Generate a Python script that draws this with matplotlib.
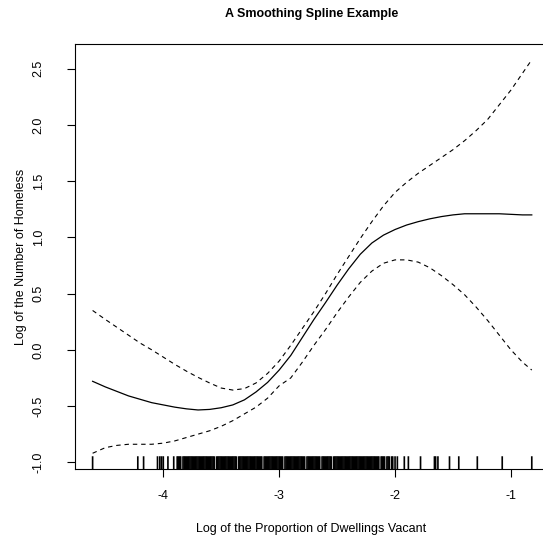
import numpy as np
import matplotlib
matplotlib.use("Agg")
import matplotlib.pyplot as plt

plt.rcParams['font.family'] = ['Liberation Sans', 'DejaVu Sans']
plt.rcParams['axes.unicode_minus'] = False

# fitted smoothing spline and its +/- 2 se band
grid_x = [-4.61, -4.5, -4.4, -4.3, -4.2, -4.1, -4.0, -3.9, -3.8, -3.7,
          -3.6, -3.5, -3.4, -3.3, -3.2, -3.1, -3.0, -2.9, -2.8, -2.7,
          -2.6, -2.5, -2.4, -2.3, -2.2, -2.1, -2.0, -1.9, -1.8, -1.7,
          -1.6, -1.5, -1.4, -1.3, -1.2, -1.1, -1.0, -0.9, -0.82]
fit = [-0.28, -0.33, -0.37, -0.41, -0.44, -0.47, -0.49, -0.51, -0.525, -0.535,
       -0.53, -0.515, -0.49, -0.445, -0.375, -0.29, -0.18, -0.05, 0.11, 0.27,
       0.42, 0.575, 0.72, 0.85, 0.95, 1.02, 1.07, 1.11, 1.14, 1.165,
       1.185, 1.20, 1.21, 1.21, 1.21, 1.21, 1.205, 1.20, 1.20]
upper = [0.35, 0.27, 0.20, 0.13, 0.06, 0.00, -0.065, -0.13, -0.19, -0.245,
         -0.295, -0.34, -0.358, -0.345, -0.295, -0.21, -0.10, 0.04, 0.19, 0.34,
         0.50, 0.67, 0.83, 0.99, 1.14, 1.28, 1.40, 1.49, 1.57, 1.64,
         1.71, 1.78, 1.86, 1.95, 2.05, 2.18, 2.31, 2.46, 2.58]
lower = [-0.92, -0.87, -0.85, -0.84, -0.84, -0.84, -0.83, -0.81, -0.78, -0.75,
         -0.72, -0.68, -0.63, -0.57, -0.51, -0.43, -0.32, -0.25, -0.11, 0.04,
         0.18, 0.33, 0.47, 0.60, 0.70, 0.77, 0.80, 0.80, 0.78, 0.73,
         0.66, 0.58, 0.49, 0.38, 0.26, 0.13, 0.0, -0.11, -0.18]

# observed x values (rug)
rug_x = [
    -4.61, -4.22, -4.17, -4.05, -4.03, -4.015, -4.00, -3.96, -3.91,
    -3.88, -3.87, -3.86, -3.85, -3.83, -3.82, -3.81, -3.80, -3.79, -3.78,
    -3.77, -3.76, -3.75, -3.74, -3.73, -3.72, -3.71, -3.70, -3.69, -3.68,
    -3.67, -3.66, -3.65, -3.64, -3.63, -3.62, -3.61, -3.60, -3.59, -3.58,
    -3.57, -3.56, -3.54, -3.53, -3.52, -3.51, -3.50, -3.49, -3.48, -3.47,
    -3.46, -3.45, -3.44, -3.43, -3.42, -3.41, -3.40, -3.39, -3.38, -3.37,
    -3.35, -3.34, -3.33, -3.32, -3.31, -3.30, -3.29, -3.28, -3.27, -3.26,
    -3.25, -3.24, -3.23, -3.22, -3.21, -3.20, -3.19, -3.18, -3.17, -3.16,
    -3.15, -3.13, -3.12, -3.11, -3.10, -3.09, -3.08, -3.07, -3.06, -3.05,
    -3.04, -3.03, -3.02, -3.01, -3.00, -2.99, -2.98, -2.97, -2.95, -2.94,
    -2.93, -2.92, -2.91, -2.90, -2.89, -2.88, -2.87, -2.86, -2.85, -2.84,
    -2.83, -2.82, -2.81, -2.80, -2.79, -2.78, -2.76, -2.75, -2.74, -2.73,
    -2.72, -2.71, -2.70, -2.69, -2.68, -2.67, -2.66, -2.65, -2.63, -2.62,
    -2.61, -2.60, -2.59, -2.58, -2.57, -2.56, -2.55, -2.53, -2.52, -2.51,
    -2.50, -2.49, -2.48, -2.47, -2.46, -2.45, -2.44, -2.43, -2.42, -2.41,
    -2.40, -2.39, -2.38, -2.37, -2.36, -2.35, -2.34, -2.33, -2.32, -2.31,
    -2.30, -2.29, -2.28, -2.27, -2.26, -2.25, -2.24, -2.23, -2.22, -2.21,
    -2.20, -2.19, -2.18, -2.17, -2.16, -2.15, -2.14, -2.12, -2.11, -2.10,
    -2.09, -2.07, -2.06, -2.05, -2.03, -2.02, -2.00, -1.98,
    -1.92, -1.885, -1.78, -1.66, -1.65, -1.63, -1.53, -1.45, -1.29, -1.075, -0.82,
]

x_ticks = [-4, -3, -2, -1]
y_ticks = [-1.0, -0.5, 0.0, 0.5, 1.0, 1.5, 2.0, 2.5]

fig = plt.figure(figsize=(5.43, 5.37), dpi=100)
# box runs slightly past the right edge, as in the reference
ax = fig.add_axes([75 / 543, 68 / 537, 473 / 543, 425 / 537])

ax.plot(grid_x, fit, "-", color="black", lw=0.9)
ax.plot(grid_x, upper, color="black", lw=0.8, linestyle=(0, (4, 3.5)))
ax.plot(grid_x, lower, color="black", lw=0.8, linestyle=(0, (4, 3.5)))
rug = ax.vlines(rug_x, 0, 0.03, transform=ax.get_xaxis_transform(),
                color="black", lw=1.2)
rug.set_snap(False)

ax.set_xlim(-4.762, -0.68)
ax.set_ylim(-1.06, 2.72)
ax.set_xticks(x_ticks)
ax.set_xticklabels(["%d" % t for t in x_ticks])
ax.set_yticks(y_ticks)
ax.set_yticklabels(["%.1f" % t for t in y_ticks], rotation=90, va="center")

ax.tick_params(axis="both", direction="out", length=5.8, width=0.8,
               labelsize=9)
ax.tick_params(axis="x", pad=9)
ax.tick_params(axis="y", pad=16)
for s in ax.spines.values():
    s.set_linewidth(0.8)

ax.set_xlabel("Log of the Proportion of Dwellings Vacant", fontsize=9)
ax.xaxis.set_label_coords(0.5, -0.141)
ax.xaxis.label.set_va("center")
ax.set_ylabel("Log of the Number of Homeless", fontsize=9)
ax.yaxis.set_label_coords(-0.114, 0.5)
ax.yaxis.label.set_va("center")

fig.text(311.5 / 543, 1 - 14 / 537, "A Smoothing Spline Example",
         fontsize=9, fontweight="bold", ha="center", va="center")

fig.savefig("out.png", dpi=100)
